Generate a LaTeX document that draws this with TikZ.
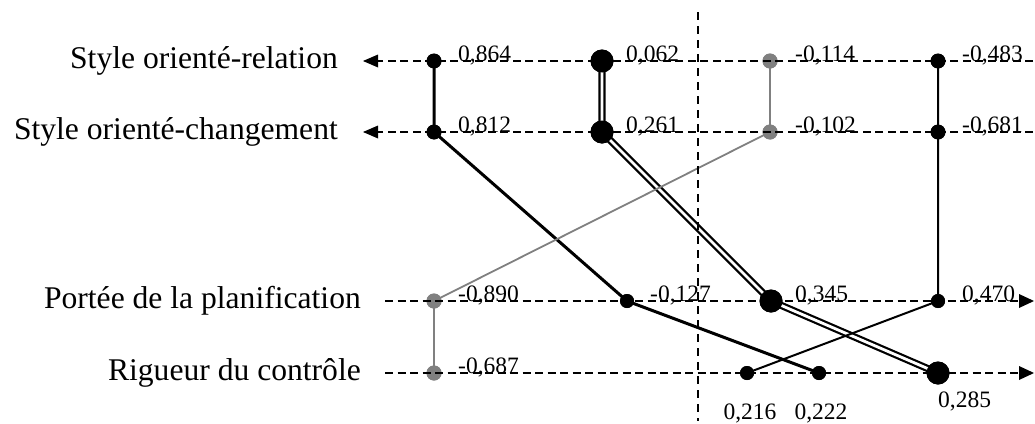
\documentclass[tikz,border=0pt]{standalone}
\usepackage{fontspec}
\setmainfont{Liberation Serif}
\begin{document}
\begin{tikzpicture}[x=1pt,y=-1pt,
  axisline/.style={line width=1.8pt,dash pattern=on 8pt off 4.5pt},
  varlabel/.style={font=\fontsize{31.6}{38}\selectfont,anchor=east,inner sep=0pt},
  val/.style={font=\fontsize{23.5}{27}\selectfont,inner sep=0pt,anchor=base west},
  smalldot/.style={circle,fill=black,minimum size=15pt,inner sep=0pt},
  bigdot/.style={circle,fill=black,minimum size=23pt,inner sep=0pt},
  graydot/.style={circle,fill=gray,minimum size=15pt,inner sep=0pt},
  thickcon/.style={line width=3pt},
  doublecon/.style={line width=2.2pt,double=white,double distance=2.8pt},
  graycon/.style={line width=1.8pt,draw=gray},
  plaincon/.style={line width=2pt}]
\useasboundingbox (0,0) rectangle (1035,423);

% row coordinates
\coordinate (L1) at (363,61);
\coordinate (R1) at (1033,61);
\coordinate (L2) at (363,132);
\coordinate (R2) at (1033,132);
\coordinate (L3) at (385,301);
\coordinate (R3) at (1034,301);
\coordinate (L4) at (385,373);
\coordinate (R4) at (1034,373);
\coordinate (VT) at (698,12);
\coordinate (VB) at (698,421);
\coordinate (A1) at (376,61);
\coordinate (A2) at (376,132);
\coordinate (A3) at (1020,301);
\coordinate (A4) at (1020,373);

% variable labels
\node[varlabel] (v1) at (338,61) {Style orienté-relation};
\node[varlabel] (v2) at (338,132) {Style orienté-changement};
\node[varlabel] (v3) at (361,301) {Portée de la planification};
\node[varlabel] (v4) at (361,373) {Rigueur du contrôle};

% points
\node[smalldot] (a1) at (434,61) {};
\node[smalldot] (a2) at (434,132) {};
\node[smalldot,minimum size=14pt] (a3) at (627,301) {};
\node[smalldot,minimum size=14pt] (a4) at (819,373) {};

\node[bigdot] (b1) at (602,61) {};
\node[bigdot] (b2) at (602,132) {};
\node[bigdot] (b3) at (771,301) {};
\node[bigdot] (b4) at (938,373) {};

\node[graydot] (c1) at (770,61) {};
\node[graydot] (c2) at (770,132) {};
\node[graydot] (c3) at (434,301) {};
\node[graydot] (c4) at (434,373) {};

\node[smalldot] (d1) at (938,61) {};
\node[smalldot] (d2) at (938,132) {};
\node[smalldot,minimum size=14pt] (d3) at (938,301) {};
\node[smalldot,minimum size=14pt] (d4) at (747,373) {};

% connectors
\draw[thickcon] (a1.center) -- (a2.center) -- (a3.center) -- (a4.center);
\draw[doublecon] (b1.center) -- (b2.center) -- (b3.center) -- (b4.center);
\draw[graycon] (c1.center) -- (c2.center) -- (c3.center) -- (c4.center);
\draw[plaincon] (d1.center) -- (d2.center) -- (d3.center) -- (d4.center);

% redraw dots on top of connectors
\foreach \n in {a1,a2,d1,d2}{\fill (\n) circle (7.3pt);}
\foreach \n in {a3,a4,d3,d4}{\fill (\n) circle (7pt);}
\foreach \n in {b1,b2,b3,b4}{\fill (\n) circle (11.5pt);}
\foreach \n in {c1,c2,c3,c4}{\fill[gray] (\n) circle (7.5pt);}

% axes
\draw[axisline] (R1) -- (A1);
\draw[axisline] (R2) -- (A2);
\draw[axisline] (L3) -- (A3);
\draw[axisline] (L4) -- (A4);
\fill (L1) -- ++(15,-6.5) -- ++(0,13) -- cycle;
\fill (L2) -- ++(15,-6.5) -- ++(0,13) -- cycle;
\fill (R3) -- ++(-15,-7) -- ++(0,14) -- cycle;
\fill (R4) -- ++(-15,-7) -- ++(0,14) -- cycle;
\draw[axisline,dash pattern=on 8pt off 6pt] (VT) -- (VB);

% values
\node[val] (t1) at (458,61) {0,864};
\node[val] (t2) at (458,132) {0,812};
\node[val] (t3) at (650,301) {-0,127};
\node[val,anchor=base] (t4) at (821,419) {0,222};

\node[val] (u1) at (626,61) {0,062};
\node[val] (u2) at (626,132) {0,261};
\node[val] (u3) at (795,301) {0,345};
\node[val] (u4) at (938,407) {0,285};

\node[val] (w1) at (795,61) {-0,114};
\node[val] (w2) at (795,132) {-0,102};
\node[val] (w3) at (458,301) {-0,890};
\node[val] (w4) at (458,373) {-0,687};

\node[val] (z1) at (962,61) {-0,483};
\node[val] (z2) at (962,132) {-0,681};
\node[val] (z3) at (962,301) {0,470};
\node[val,anchor=base] (z4) at (750,419) {0,216};
\end{tikzpicture}
\end{document}
